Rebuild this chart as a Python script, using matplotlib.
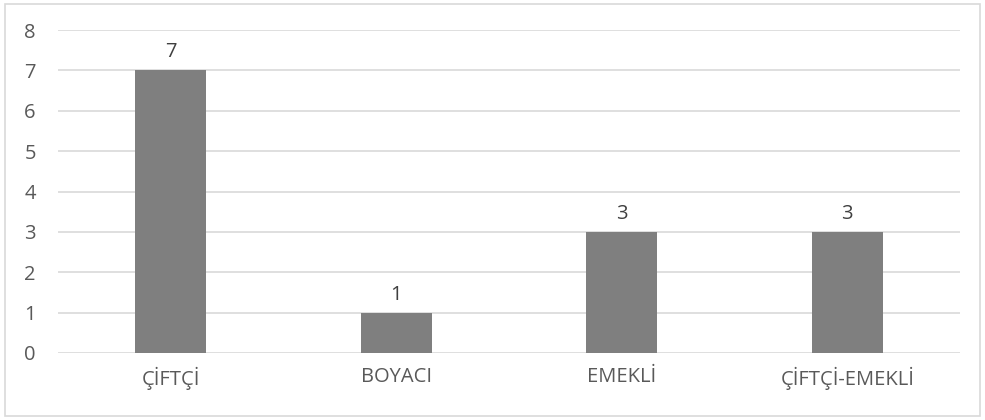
import matplotlib
matplotlib.use("Agg")
import matplotlib.pyplot as plt
from matplotlib.patches import Rectangle

categories = ["ÇİFTÇİ", "BOYACI", "EMEKLİ", "ÇİFTÇİ-EMEKLİ"]
counts = [7, 1, 3, 3]
y_ticks = [0, 1, 2, 3, 4, 5, 6, 7, 8]

plt.rcParams['font.family'] = ['Open Sans', 'DejaVu Sans']

fig = plt.figure(figsize=(9.85, 4.2), dpi=100)
ax = fig.add_axes([58 / 985, 1 - 353 / 420, 902 / 985, 323 / 420])

xs = range(len(categories))
bars = ax.bar(xs, counts, width=0.315, color="#7f7f7f", zorder=3)
for x, v in zip(xs, counts):
    ax.text(x, v + 0.2, str(v), ha="center", va="bottom", fontsize=14.5, color="#404040")

ax.set_xlim(-0.5, len(categories) - 0.5)
ax.set_ylim(0, 8)
ax.set_yticks(y_ticks)
ax.set_xticks(list(xs))
ax.set_xticklabels(categories)
ax.grid(axis="y", color="#d9d9d9", linewidth=1.2, zorder=0)
for s in ax.spines.values():
    s.set_visible(False)
ax.tick_params(axis="both", length=0, labelsize=14.5, labelcolor="#595959")
ax.tick_params(axis="y", pad=16)
ax.tick_params(axis="x", pad=10)

fig.patches.append(Rectangle((5 / 985, 4 / 420), 975 / 985, 412 / 420, transform=fig.transFigure,
                             fill=False, edgecolor="#d9d9d9", linewidth=1.2))

fig.savefig("out.png", dpi=100)
